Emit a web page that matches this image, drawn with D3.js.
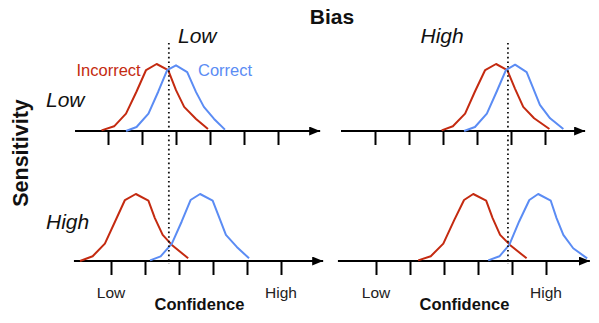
<!DOCTYPE html>
<html>
<head>
<meta charset="utf-8">
<script src="https://cdn.jsdelivr.net/npm/d3@7"></script>
<style>
  html, body { margin: 0; padding: 0; background: #fff; }
  svg { display: block; font-family: "Liberation Sans", Arial, Helvetica, sans-serif; }
</style>
</head>
<body>
<script>
// Confidence axis ticks (arbitrary units) and end labels
const confidenceTicks = [1, 2, 3, 4, 5, 6];
const confidenceLabels = [[1, "Low"], [6, "High"]];
const biasLevels = ["Low", "High"];
const sensitivityLevels = ["Low", "High"];

// Decision criterion position for each bias level (confidence units)
const criterion = [2.79, 4.91];

// Confidence distributions: [confidence, relative density]
const incorrectLowSensLowBias = [[0.81,0.01],[1.18,0.07],[1.53,0.26],[1.84,0.59],[2.12,0.91],[2.43,1.00],[2.77,0.91],[3.00,0.61],[3.24,0.36],[3.59,0.18],[3.94,0.03]];
const correctLowSensLowBias   = [[1.53,0.00],[1.84,0.06],[2.19,0.26],[2.48,0.59],[2.74,0.91],[3.00,0.98],[3.33,0.88],[3.59,0.58],[3.82,0.36],[4.12,0.18],[4.44,0.02]];
const incorrectLowSensHighBias = [[2.96,0.01],[3.29,0.07],[3.65,0.26],[3.94,0.59],[4.24,0.91],[4.56,1.00],[4.89,0.91],[5.12,0.63],[5.36,0.36],[5.68,0.19],[6.13,0.03]];
const correctLowSensHighBias   = [[3.62,0.00],[3.94,0.06],[4.29,0.26],[4.58,0.59],[4.85,0.91],[5.12,0.99],[5.46,0.88],[5.66,0.63],[5.85,0.39],[6.15,0.19],[6.54,0.03]];
const incorrectHighSensLowBias = [[0.09,0.00],[0.46,0.07],[0.82,0.26],[1.12,0.59],[1.41,0.91],[1.73,1.00],[2.10,0.90],[2.29,0.64],[2.52,0.39],[2.79,0.24],[3.27,0.04]];
const correctHighSensLowBias   = [[2.15,0.01],[2.46,0.07],[2.79,0.26],[3.08,0.59],[3.34,0.91],[3.62,1.00],[3.99,0.90],[4.19,0.64],[4.38,0.39],[4.70,0.21],[5.06,0.04]];
const incorrectHighSensHighBias = [[2.24,0.01],[2.61,0.07],[2.98,0.26],[3.30,0.61],[3.59,0.91],[3.86,1.00],[4.24,0.90],[4.43,0.64],[4.65,0.39],[4.94,0.24],[5.43,0.04]];
const correctHighSensHighBias   = [[4.30,0.01],[4.63,0.07],[4.92,0.24],[5.21,0.59],[5.51,0.91],[5.77,1.00],[6.14,0.90],[6.31,0.64],[6.51,0.39],[6.80,0.19],[7.21,0.04]];

const RED = "#c42a10";
const BLUE = "#5b8cf4";

const W = 599, H = 323;
const svg = d3.select("body").append("svg").attr("width", W).attr("height", H);
svg.append("rect").attr("width", W).attr("height", H).attr("fill", "#fff");

svg.append("defs").append("marker")
  .attr("id", "arrow")
  .attr("markerUnits", "userSpaceOnUse")
  .attr("markerWidth", 12).attr("markerHeight", 10)
  .attr("refX", 11).attr("refY", 4.5)
  .attr("orient", "auto")
  .append("path").attr("d", "M0,0 L11,4.5 L0,9 Z").attr("fill", "#000");

// Panel layout: column = bias, row = sensitivity
const panels = [
  { bias: 0, sens: 0, x0: 74,  base: 131, from: 0.03, to: 7.24, inc: incorrectLowSensLowBias,  cor: correctLowSensLowBias },
  { bias: 1, sens: 0, x0: 341, base: 131, from: 0.0,  to: 7.18, inc: incorrectLowSensHighBias, cor: correctLowSensHighBias },
  { bias: 0, sens: 1, x0: 77,  base: 261, from: -0.09, to: 7.24, inc: incorrectHighSensLowBias, cor: correctHighSensLowBias },
  { bias: 1, sens: 1, x0: 342, base: 261, from: -0.12, to: 7.29, inc: incorrectHighSensHighBias, cor: correctHighSensHighBias }
];
const unit = 34, peak = 67;

panels.forEach(p => {
  const x = d3.scaleLinear().domain([0, 7]).range([p.x0, p.x0 + 7 * unit]);
  const y = d3.scaleLinear().domain([0, 1]).range([p.base, p.base - peak]);
  p.x = x;
  const g = svg.append("g");

  // ticks
  const axis = d3.axisBottom(x).tickValues(confidenceTicks).tickSize(14).tickFormat("");
  const ag = g.append("g").attr("transform", `translate(0,${p.base})`).call(axis);
  ag.select(".domain").remove();
  ag.selectAll(".tick line").attr("stroke", "#000").attr("stroke-width", 2);

  // axis line with arrow
  g.append("line")
    .attr("x1", x(p.from)).attr("x2", x(p.to))
    .attr("y1", p.base).attr("y2", p.base)
    .attr("stroke", "#000").attr("stroke-width", 2)
    .attr("marker-end", "url(#arrow)");

  const line = d3.line().x(d => x(d[0])).y(d => y(d[1]));
  g.append("path").datum(p.inc).attr("d", line)
    .attr("fill", "none").attr("stroke", RED).attr("stroke-width", 2).attr("stroke-linejoin", "round");
  g.append("path").datum(p.cor).attr("d", line)
    .attr("fill", "none").attr("stroke", BLUE).attr("stroke-width", 2).attr("stroke-linejoin", "round");

  // end labels on the bottom row
  if (p.sens === 1) {
    g.selectAll("text.cl").data(confidenceLabels).join("text")
      .attr("x", d => x(d[0])).attr("y", 297.5)
      .attr("text-anchor", "middle").attr("font-size", 15.5).attr("fill", "#222")
      .text(d => d[1]);
    g.append("text")
      .attr("x", x(3.6)).attr("y", 309.5)
      .attr("text-anchor", "middle").attr("font-size", 16.5).attr("font-weight", "bold")
      .attr("fill", "#111").text("Confidence");
  }
});

// criterion lines spanning both rows
criterion.forEach((c, i) => {
  const x = panels[i].x;
  svg.append("line")
    .attr("x1", x(c)).attr("x2", x(c)).attr("y1", 43).attr("y2", 264)
    .attr("stroke", "#111").attr("stroke-width", 1.8).attr("stroke-dasharray", "1.6,3");
});

// titles
svg.append("text").attr("x", 332).attr("y", 24).attr("text-anchor", "middle")
  .attr("font-size", 21).attr("font-weight", "bold").attr("fill", "#111").text("Bias");
const colTitleX = [178, 420.5];
biasLevels.forEach((b, i) => {
  svg.append("text").attr("x", colTitleX[i]).attr("y", 43).attr("font-size", 21)
    .attr("font-style", "italic").attr("fill", "#111").text(b);
});
const rowTitleY = [107, 228.5];
sensitivityLevels.forEach((s, i) => {
  svg.append("text").attr("x", 46).attr("y", rowTitleY[i]).attr("font-size", 21)
    .attr("font-style", "italic").attr("fill", "#111").text(s);
});
svg.append("text").attr("transform", "translate(28,153) rotate(-90)")
  .attr("text-anchor", "middle").attr("font-size", 21.5).attr("font-weight", "bold")
  .attr("fill", "#111").text("Sensitivity");

// series labels
svg.append("text").attr("x", 76.5).attr("y", 75.5).attr("font-size", 16.5)
  .attr("fill", RED).text("Incorrect");
svg.append("text").attr("x", 198).attr("y", 75.5).attr("font-size", 16.5)
  .attr("fill", BLUE).text("Correct");
</script>
</body>
</html>
